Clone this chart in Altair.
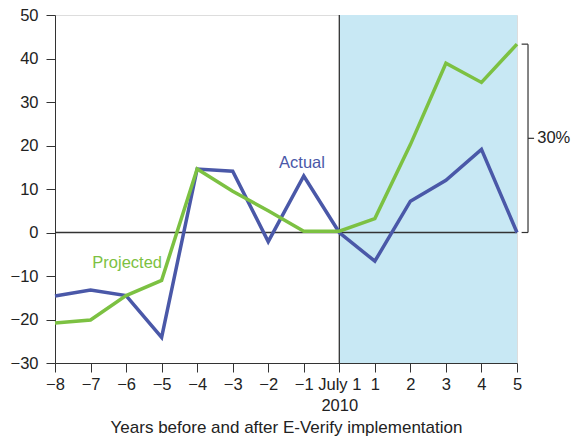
import altair as alt
import pandas as pd

years = list(range(-8, 6))
actual = [-14.6, -13.2, -14.5, -24.1, 14.6, 14.1, -2.1, 13.0, 0.0, -6.6, 7.2, 12.0, 19.1, 0.0]
projected = [-20.8, -20.1, -14.5, -11.0, 14.6, 9.5, 5.0, 0.3, 0.3, 3.2, 20.2, 38.9, 34.5, 43.3]
y_ticks = [-30, -20, -10, 0, 10, 20, 30, 40, 50]

BLUE = "#4a58a8"
GREEN = "#7cc142"
SHADE = "#c8e8f4"
FONT = "Liberation Sans"

rows = []
for yv, a, p in zip(years, actual, projected):
    rows.append({"year": yv, "value": a, "series": "Actual"})
    rows.append({"year": yv, "value": p, "series": "Projected"})
df = pd.DataFrame(rows)

xscale = alt.Scale(domain=[-8, 5], nice=False, zero=False)
yscale = alt.Scale(domain=[-30, 50], nice=False)

label_expr = "datum.value == 0 ? ['July 1', '2010'] : replace(format(datum.value, 'd'), '-', '\u2013')"

xaxis = alt.Axis(values=years, labelExpr=label_expr, title="Years before and after E-Verify implementation",
                 grid=False, tickSize=9, domainColor="#333", tickColor="#333", labelColor="#222",
                 labelFontSize=16.5, titleFontSize=17, titleFontWeight="normal", labelFont=FONT,
                 titleFont=FONT, titleColor="#222", labelPadding=4, titlePadding=6, labelLineHeight=21,
                 labelOverlap=False, labelFlush=False, labelBound=False)
yaxis = alt.Axis(values=y_ticks, labelExpr="replace(format(datum.value, 'd'), '-', '\u2013')",
                 title=None, grid=False, tickSize=9, domainColor="#333", tickColor="#333", labelColor="#222",
                 labelFontSize=16.5, labelFont=FONT, labelPadding=8, labelOverlap=False, labelFlush=False,
                 labelBound=False)


def X(f):
    return alt.X(f, scale=xscale, axis=xaxis, title="Years before and after E-Verify implementation")


def Y(f):
    return alt.Y(f, scale=yscale, axis=yaxis, title=None)


shade = alt.Chart(pd.DataFrame({"x": [0], "x2": [5], "y": [-30], "y2": [50]})).mark_rect(color=SHADE).encode(
    x=X("x:Q"), x2="x2", y=Y("y:Q"), y2="y2")

hline = alt.Chart(pd.DataFrame({"x": [-8], "x2": [5], "y": [0]})).mark_rule(color="#333", strokeWidth=1.3).encode(
    x=X("x:Q"), x2="x2", y=Y("y:Q"))
vline = alt.Chart(pd.DataFrame({"x": [0], "y": [-30], "y2": [50]})).mark_rule(color="#333", strokeWidth=1.3).encode(
    x=X("x:Q"), y=Y("y:Q"), y2="y2")

lines = alt.Chart(df).mark_line(strokeWidth=3.5, strokeJoin="miter").encode(
    x=X("year:Q"), y=Y("value:Q"),
    color=alt.Color("series:N", scale=alt.Scale(domain=["Actual", "Projected"], range=[BLUE, GREEN]), legend=None),
    order=alt.Order("series:N"))

labels_df = pd.DataFrame({"x": [-1.05, -5.97], "y": [16.0, -6.9], "t": ["Actual", "Projected"], "c": [BLUE, GREEN]})
labels = alt.Chart(labels_df).mark_text(fontSize=16.5, font=FONT, baseline="middle").encode(
    x=X("x:Q"), y=Y("y:Q"), text="t:N", color=alt.Color("c:N", scale=None))

# bracket annotation
top = projected[-1]
bx = 5.31
br_df = pd.DataFrame({"x": [5.13, 5.13, bx, bx], "x2": [bx, bx, bx, bx + 0.17],
                      "y": [top, 0, 0, top / 2], "y2": [top, 0, top, top / 2]})
bracket = alt.Chart(br_df).mark_rule(color="#333", strokeWidth=1.2, clip=False).encode(
    x=X("x:Q"), x2="x2", y=Y("y:Q"), y2="y2")
pct = alt.Chart(pd.DataFrame({"x": [bx + 0.26], "y": [top / 2], "t": ["30%"]})).mark_text(
    fontSize=16.5, font=FONT, align="left", baseline="middle", color="#222", clip=False).encode(
    x=X("x:Q"), y=Y("y:Q"), text="t:N")

chart = alt.layer(shade, hline, vline, lines, labels, bracket, pct).properties(
    width=462, height=348, autosize=alt.AutoSizeParams(type="none"),
    padding={"left": 55, "top": 15, "right": 56, "bottom": 76}
).configure_view(stroke=None).configure(background="white")

chart.save("out.html", embed_options={"renderer": "svg", "actions": False})
